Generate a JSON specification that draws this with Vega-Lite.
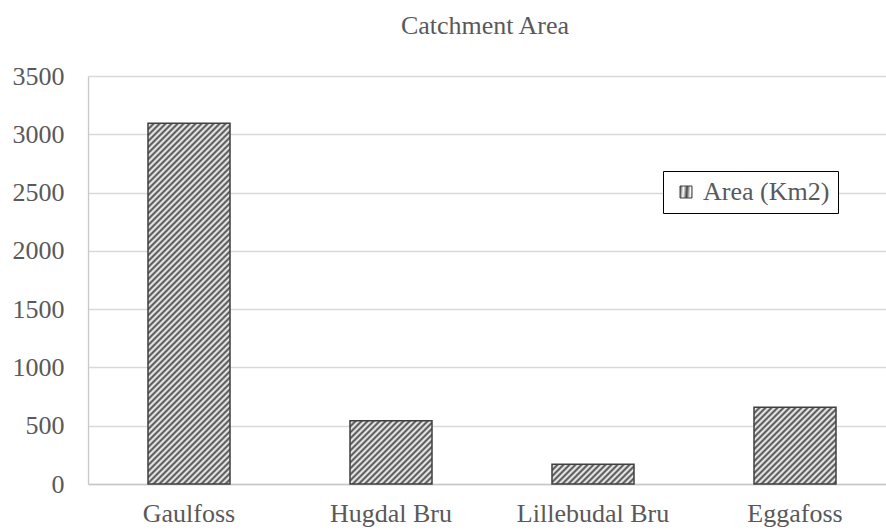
{
  "$schema": "https://vega.github.io/schema/vega-lite/v6.json",
  "autosize": "none",
  "width": 808,
  "height": 408,
  "padding": {"left": 88, "top": 76, "right": 0, "bottom": 47},
  "background": "#ffffff",
  "title": {"text": "Catchment Area", "fontSize": 26, "font": "Liberation Serif", "color": "#595959", "fontWeight": "normal", "anchor": "middle", "frame": "group", "offset": 24, "dx": -7},
  "config": {"view": {"stroke": null}, "font": "Liberation Serif"},
  "data": {"values": [
    {"site": "Gaulfoss", "area": 3094},
    {"site": "Hugdal Bru", "area": 543},
    {"site": "Lillebudal Bru", "area": 169},
    {"site": "Eggafoss", "area": 658}
  ]},
  "encoding": {
    "x": {"field": "site", "type": "nominal", "sort": ["Gaulfoss", "Hugdal Bru", "Lillebudal Bru", "Eggafoss"], "scale": {"paddingInner": 0.594, "paddingOuter": 0.297}, "title": null,
      "axis": {"labelAngle": 0, "ticks": false, "tickSize": 0, "labelPadding": 37, "labelBaseline": "alphabetic", "labelFontSize": 26, "labelFont": "Liberation Serif", "labelColor": "#595959", "domainColor": "#c8c8c8", "domainWidth": 1.3, "grid": false}},
    "y": {"field": "area", "type": "quantitative", "scale": {"domain": [0, 3500]}, "title": null,
      "axis": {"values": [0, 500, 1000, 1500, 2000, 2500, 3000, 3500], "format": "d", "ticks": false, "tickSize": 0, "labelPadding": 24, "labelFontSize": 26, "labelFont": "Liberation Serif", "labelColor": "#595959", "domainColor": "#c8c8c8", "domainWidth": 1.3, "gridColor": "#d9d9d9", "gridWidth": 1.3}},
    "stroke": {"datum": "Area (Km2)", "type": "nominal", "scale": {"range": ["#404040"]},
      "legend": {"title": null, "orient": "none", "legendX": 575, "legendY": 95, "strokeColor": "#000000", "fillColor": "#ffffff", "padding": 8, "symbolOffset": 2, "labelOffset": 4, "symbolType": "square", "symbolSize": 144, "symbolStrokeWidth": 1, "symbolStrokeColor": "#404040", "labelFontSize": 26, "labelFont": "Liberation Serif", "labelColor": "#595959",
        "encode": {"symbols": {"update": {"fill": {"value": {"gradient": "linear", "x1": 0, "y1": 0, "x2": 1, "y2": 1, "stops": [
          {"offset": 0, "color": "#444"}, {"offset": 0.0833, "color": "#fff"}, {"offset": 0.1667, "color": "#444"}, {"offset": 0.25, "color": "#fff"}, {"offset": 0.3333, "color": "#444"}, {"offset": 0.4167, "color": "#fff"}, {"offset": 0.5, "color": "#444"}, {"offset": 0.5833, "color": "#fff"}, {"offset": 0.6667, "color": "#444"}, {"offset": 0.75, "color": "#fff"}, {"offset": 0.8333, "color": "#444"}, {"offset": 0.9167, "color": "#fff"}, {"offset": 1, "color": "#444"}
        ]}}, "opacity": {"value": 1}}}}}}
  },
  "layer": [
    {"transform": [{"filter": "datum.site === 'Gaulfoss'"}],
     "mark": {"type": "bar", "strokeWidth": 1.5, "fill": {"gradient": "linear", "x1": 0, "y1": 0, "x2": 0.359624, "y2": 1.5818, "stops": [
      {"offset": 0, "color": "#444"}, {"offset": 0.005, "color": "#fff"}, {"offset": 0.01, "color": "#444"}, {"offset": 0.015, "color": "#fff"}, {"offset": 0.02, "color": "#444"}, {"offset": 0.025, "color": "#fff"}, {"offset": 0.03, "color": "#444"}, {"offset": 0.035, "color": "#fff"}, {"offset": 0.04, "color": "#444"}, {"offset": 0.045, "color": "#fff"},
      {"offset": 0.05, "color": "#444"}, {"offset": 0.055, "color": "#fff"}, {"offset": 0.06, "color": "#444"}, {"offset": 0.065, "color": "#fff"}, {"offset": 0.07, "color": "#444"}, {"offset": 0.075, "color": "#fff"}, {"offset": 0.08, "color": "#444"}, {"offset": 0.085, "color": "#fff"}, {"offset": 0.09, "color": "#444"}, {"offset": 0.095, "color": "#fff"},
      {"offset": 0.1, "color": "#444"}, {"offset": 0.105, "color": "#fff"}, {"offset": 0.11, "color": "#444"}, {"offset": 0.115, "color": "#fff"}, {"offset": 0.12, "color": "#444"}, {"offset": 0.125, "color": "#fff"}, {"offset": 0.13, "color": "#444"}, {"offset": 0.135, "color": "#fff"}, {"offset": 0.14, "color": "#444"}, {"offset": 0.145, "color": "#fff"},
      {"offset": 0.15, "color": "#444"}, {"offset": 0.155, "color": "#fff"}, {"offset": 0.16, "color": "#444"}, {"offset": 0.165, "color": "#fff"}, {"offset": 0.17, "color": "#444"}, {"offset": 0.175, "color": "#fff"}, {"offset": 0.18, "color": "#444"}, {"offset": 0.185, "color": "#fff"}, {"offset": 0.19, "color": "#444"}, {"offset": 0.195, "color": "#fff"},
      {"offset": 0.2, "color": "#444"}, {"offset": 0.205, "color": "#fff"}, {"offset": 0.21, "color": "#444"}, {"offset": 0.215, "color": "#fff"}, {"offset": 0.22, "color": "#444"}, {"offset": 0.225, "color": "#fff"}, {"offset": 0.23, "color": "#444"}, {"offset": 0.235, "color": "#fff"}, {"offset": 0.24, "color": "#444"}, {"offset": 0.245, "color": "#fff"},
      {"offset": 0.25, "color": "#444"}, {"offset": 0.255, "color": "#fff"}, {"offset": 0.26, "color": "#444"}, {"offset": 0.265, "color": "#fff"}, {"offset": 0.27, "color": "#444"}, {"offset": 0.275, "color": "#fff"}, {"offset": 0.28, "color": "#444"}, {"offset": 0.285, "color": "#fff"}, {"offset": 0.29, "color": "#444"}, {"offset": 0.295, "color": "#fff"},
      {"offset": 0.3, "color": "#444"}, {"offset": 0.305, "color": "#fff"}, {"offset": 0.31, "color": "#444"}, {"offset": 0.315, "color": "#fff"}, {"offset": 0.32, "color": "#444"}, {"offset": 0.325, "color": "#fff"}, {"offset": 0.33, "color": "#444"}, {"offset": 0.335, "color": "#fff"}, {"offset": 0.34, "color": "#444"}, {"offset": 0.345, "color": "#fff"},
      {"offset": 0.35, "color": "#444"}, {"offset": 0.355, "color": "#fff"}, {"offset": 0.36, "color": "#444"}, {"offset": 0.365, "color": "#fff"}, {"offset": 0.37, "color": "#444"}, {"offset": 0.375, "color": "#fff"}, {"offset": 0.38, "color": "#444"}, {"offset": 0.385, "color": "#fff"}, {"offset": 0.39, "color": "#444"}, {"offset": 0.395, "color": "#fff"},
      {"offset": 0.4, "color": "#444"}, {"offset": 0.405, "color": "#fff"}, {"offset": 0.41, "color": "#444"}, {"offset": 0.415, "color": "#fff"}, {"offset": 0.42, "color": "#444"}, {"offset": 0.425, "color": "#fff"}, {"offset": 0.43, "color": "#444"}, {"offset": 0.435, "color": "#fff"}, {"offset": 0.44, "color": "#444"}, {"offset": 0.445, "color": "#fff"},
      {"offset": 0.45, "color": "#444"}, {"offset": 0.455, "color": "#fff"}, {"offset": 0.46, "color": "#444"}, {"offset": 0.465, "color": "#fff"}, {"offset": 0.47, "color": "#444"}, {"offset": 0.475, "color": "#fff"}, {"offset": 0.48, "color": "#444"}, {"offset": 0.485, "color": "#fff"}, {"offset": 0.49, "color": "#444"}, {"offset": 0.495, "color": "#fff"},
      {"offset": 0.5, "color": "#444"}, {"offset": 0.505, "color": "#fff"}, {"offset": 0.51, "color": "#444"}, {"offset": 0.515, "color": "#fff"}, {"offset": 0.52, "color": "#444"}, {"offset": 0.525, "color": "#fff"}, {"offset": 0.53, "color": "#444"}, {"offset": 0.535, "color": "#fff"}, {"offset": 0.54, "color": "#444"}, {"offset": 0.545, "color": "#fff"},
      {"offset": 0.55, "color": "#444"}, {"offset": 0.555, "color": "#fff"}, {"offset": 0.56, "color": "#444"}, {"offset": 0.565, "color": "#fff"}, {"offset": 0.57, "color": "#444"}, {"offset": 0.575, "color": "#fff"}, {"offset": 0.58, "color": "#444"}, {"offset": 0.585, "color": "#fff"}, {"offset": 0.59, "color": "#444"}, {"offset": 0.595, "color": "#fff"},
      {"offset": 0.6, "color": "#444"}, {"offset": 0.605, "color": "#fff"}, {"offset": 0.61, "color": "#444"}, {"offset": 0.615, "color": "#fff"}, {"offset": 0.62, "color": "#444"}, {"offset": 0.625, "color": "#fff"}, {"offset": 0.63, "color": "#444"}, {"offset": 0.635, "color": "#fff"}, {"offset": 0.64, "color": "#444"}, {"offset": 0.645, "color": "#fff"},
      {"offset": 0.65, "color": "#444"}, {"offset": 0.655, "color": "#fff"}, {"offset": 0.66, "color": "#444"}, {"offset": 0.665, "color": "#fff"}, {"offset": 0.67, "color": "#444"}, {"offset": 0.675, "color": "#fff"}, {"offset": 0.68, "color": "#444"}, {"offset": 0.685, "color": "#fff"}, {"offset": 0.69, "color": "#444"}, {"offset": 0.695, "color": "#fff"},
      {"offset": 0.7, "color": "#444"}, {"offset": 0.705, "color": "#fff"}, {"offset": 0.71, "color": "#444"}, {"offset": 0.715, "color": "#fff"}, {"offset": 0.72, "color": "#444"}, {"offset": 0.725, "color": "#fff"}, {"offset": 0.73, "color": "#444"}, {"offset": 0.735, "color": "#fff"}, {"offset": 0.74, "color": "#444"}, {"offset": 0.745, "color": "#fff"}
     ]}}},
    {"transform": [{"filter": "datum.site === 'Hugdal Bru'"}],
     "mark": {"type": "bar", "strokeWidth": 1.5, "fill": {"gradient": "linear", "x1": 0, "y1": 0, "x2": 4.58502, "y2": 3.5393, "stops": [
      {"offset": 0, "color": "#444"}, {"offset": 0.005, "color": "#fff"}, {"offset": 0.01, "color": "#444"}, {"offset": 0.015, "color": "#fff"}, {"offset": 0.02, "color": "#444"}, {"offset": 0.025, "color": "#fff"}, {"offset": 0.03, "color": "#444"}, {"offset": 0.035, "color": "#fff"}, {"offset": 0.04, "color": "#444"}, {"offset": 0.045, "color": "#fff"},
      {"offset": 0.05, "color": "#444"}, {"offset": 0.055, "color": "#fff"}, {"offset": 0.06, "color": "#444"}, {"offset": 0.065, "color": "#fff"}, {"offset": 0.07, "color": "#444"}, {"offset": 0.075, "color": "#fff"}, {"offset": 0.08, "color": "#444"}, {"offset": 0.085, "color": "#fff"}, {"offset": 0.09, "color": "#444"}, {"offset": 0.095, "color": "#fff"},
      {"offset": 0.1, "color": "#444"}, {"offset": 0.105, "color": "#fff"}, {"offset": 0.11, "color": "#444"}, {"offset": 0.115, "color": "#fff"}, {"offset": 0.12, "color": "#444"}, {"offset": 0.125, "color": "#fff"}, {"offset": 0.13, "color": "#444"}, {"offset": 0.135, "color": "#fff"}, {"offset": 0.14, "color": "#444"}, {"offset": 0.145, "color": "#fff"},
      {"offset": 0.15, "color": "#444"}, {"offset": 0.155, "color": "#fff"}, {"offset": 0.16, "color": "#444"}, {"offset": 0.165, "color": "#fff"}, {"offset": 0.17, "color": "#444"}, {"offset": 0.175, "color": "#fff"}, {"offset": 0.18, "color": "#444"}, {"offset": 0.185, "color": "#fff"}, {"offset": 0.19, "color": "#444"}, {"offset": 0.195, "color": "#fff"},
      {"offset": 0.2, "color": "#444"}, {"offset": 0.205, "color": "#fff"}, {"offset": 0.21, "color": "#444"}, {"offset": 0.215, "color": "#fff"}, {"offset": 0.22, "color": "#444"}, {"offset": 0.225, "color": "#fff"}, {"offset": 0.23, "color": "#444"}, {"offset": 0.235, "color": "#fff"}, {"offset": 0.24, "color": "#444"}, {"offset": 0.245, "color": "#fff"}
     ]}}},
    {"transform": [{"filter": "datum.site === 'Lillebudal Bru'"}],
     "mark": {"type": "bar", "strokeWidth": 1.5, "fill": {"gradient": "linear", "x1": 0, "y1": 0, "x2": 6.91779, "y2": 1.66201, "stops": [
      {"offset": 0, "color": "#444"}, {"offset": 0.005, "color": "#fff"}, {"offset": 0.01, "color": "#444"}, {"offset": 0.015, "color": "#fff"}, {"offset": 0.02, "color": "#444"}, {"offset": 0.025, "color": "#fff"}, {"offset": 0.03, "color": "#444"}, {"offset": 0.035, "color": "#fff"}, {"offset": 0.04, "color": "#444"}, {"offset": 0.045, "color": "#fff"},
      {"offset": 0.05, "color": "#444"}, {"offset": 0.055, "color": "#fff"}, {"offset": 0.06, "color": "#444"}, {"offset": 0.065, "color": "#fff"}, {"offset": 0.07, "color": "#444"}, {"offset": 0.075, "color": "#fff"}, {"offset": 0.08, "color": "#444"}, {"offset": 0.085, "color": "#fff"}, {"offset": 0.09, "color": "#444"}, {"offset": 0.095, "color": "#fff"},
      {"offset": 0.1, "color": "#444"}, {"offset": 0.105, "color": "#fff"}, {"offset": 0.11, "color": "#444"}, {"offset": 0.115, "color": "#fff"}, {"offset": 0.12, "color": "#444"}, {"offset": 0.125, "color": "#fff"}, {"offset": 0.13, "color": "#444"}, {"offset": 0.135, "color": "#fff"}, {"offset": 0.14, "color": "#444"}, {"offset": 0.145, "color": "#fff"},
      {"offset": 0.15, "color": "#444"}, {"offset": 0.155, "color": "#fff"}, {"offset": 0.16, "color": "#444"}, {"offset": 0.165, "color": "#fff"}, {"offset": 0.17, "color": "#444"}, {"offset": 0.175, "color": "#fff"}
     ]}}},
    {"transform": [{"filter": "datum.site === 'Eggafoss'"}],
     "mark": {"type": "bar", "strokeWidth": 1.5, "fill": {"gradient": "linear", "x1": 0, "y1": 0, "x2": 3.90244, "y2": 3.6504, "stops": [
      {"offset": 0, "color": "#444"}, {"offset": 0.005, "color": "#fff"}, {"offset": 0.01, "color": "#444"}, {"offset": 0.015, "color": "#fff"}, {"offset": 0.02, "color": "#444"}, {"offset": 0.025, "color": "#fff"}, {"offset": 0.03, "color": "#444"}, {"offset": 0.035, "color": "#fff"}, {"offset": 0.04, "color": "#444"}, {"offset": 0.045, "color": "#fff"},
      {"offset": 0.05, "color": "#444"}, {"offset": 0.055, "color": "#fff"}, {"offset": 0.06, "color": "#444"}, {"offset": 0.065, "color": "#fff"}, {"offset": 0.07, "color": "#444"}, {"offset": 0.075, "color": "#fff"}, {"offset": 0.08, "color": "#444"}, {"offset": 0.085, "color": "#fff"}, {"offset": 0.09, "color": "#444"}, {"offset": 0.095, "color": "#fff"},
      {"offset": 0.1, "color": "#444"}, {"offset": 0.105, "color": "#fff"}, {"offset": 0.11, "color": "#444"}, {"offset": 0.115, "color": "#fff"}, {"offset": 0.12, "color": "#444"}, {"offset": 0.125, "color": "#fff"}, {"offset": 0.13, "color": "#444"}, {"offset": 0.135, "color": "#fff"}, {"offset": 0.14, "color": "#444"}, {"offset": 0.145, "color": "#fff"},
      {"offset": 0.15, "color": "#444"}, {"offset": 0.155, "color": "#fff"}, {"offset": 0.16, "color": "#444"}, {"offset": 0.165, "color": "#fff"}, {"offset": 0.17, "color": "#444"}, {"offset": 0.175, "color": "#fff"}, {"offset": 0.18, "color": "#444"}, {"offset": 0.185, "color": "#fff"}, {"offset": 0.19, "color": "#444"}, {"offset": 0.195, "color": "#fff"},
      {"offset": 0.2, "color": "#444"}, {"offset": 0.205, "color": "#fff"}, {"offset": 0.21, "color": "#444"}, {"offset": 0.215, "color": "#fff"}, {"offset": 0.22, "color": "#444"}, {"offset": 0.225, "color": "#fff"}, {"offset": 0.23, "color": "#444"}, {"offset": 0.235, "color": "#fff"}, {"offset": 0.24, "color": "#444"}, {"offset": 0.245, "color": "#fff"},
      {"offset": 0.25, "color": "#444"}, {"offset": 0.255, "color": "#fff"}, {"offset": 0.26, "color": "#444"}, {"offset": 0.265, "color": "#fff"}, {"offset": 0.27, "color": "#444"}
     ]}}}
  ]
}
